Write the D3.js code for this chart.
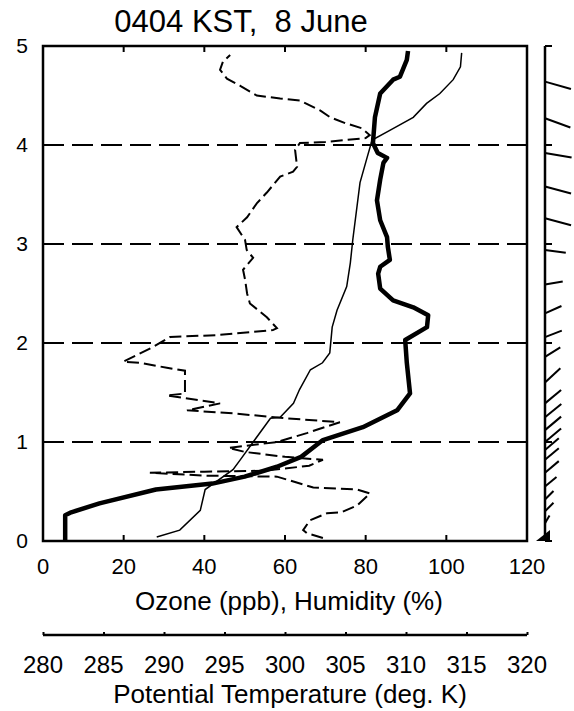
<!doctype html>
<html>
<head>
	<title>0404 KST, 8 June</title>
	<meta charset="UTF-8">
	<script src="https://d3js.org/d3.v7.min.js"></script>
	<style>
		body { margin: 0; background: #fff; }
		text { font-family: "Liberation Sans", Arial, sans-serif; fill: #000; }
	</style>
</head>
<body>
	<script>

		// ---- data (height in km) ----

		// ozone (ppb), thick line
		var ozoneVal = [5.5, 5.5, 7, 14, 28, 42, 50, 58, 64, 69.4, 79.3, 87.8, 91, 90.2, 89.8, 95.2, 95.5, 91.8, 86.8, 83.6,
			83.1, 83.6, 86, 85.5, 85.3, 83.6, 82.8, 83.6, 84.4, 85.3, 83, 81.8, 82.3, 83.6, 86.8, 88.5, 90.2, 90.5];
		var ozoneHgt = [0.0, 0.26, 0.29, 0.38, 0.52, 0.58, 0.65, 0.75, 0.85, 1.02, 1.15, 1.32, 1.49, 1.80, 2.03, 2.16, 2.28, 2.36, 2.43, 2.55,
			2.70, 2.77, 2.84, 2.97, 3.07, 3.24, 3.44, 3.65, 3.82, 3.87, 3.92, 4.02, 4.28, 4.52, 4.66, 4.69, 4.86, 4.95];

		// relative humidity (%), dashed line
		var humidVal = [69.4, 65.4, 64.5, 66.2, 70.4, 74, 77.9, 81.1, 77.9, 67, 60.5, 58, 40, 26.5, 40, 55, 66, 69.4, 60, 50,
			46, 50, 58, 65.4, 73.6, 60, 47, 35.7, 43.9, 30.7, 35.2, 35.2, 30.7, 24, 19.9, 23.3, 27.3, 31.5, 43.1, 57,
			58, 55.5, 51.3, 50.6, 50.1, 49.6, 52.1, 50.5, 50.1, 48, 50.6, 53, 55.5, 58.8, 62, 63, 62.5, 63.7, 70, 80,
			81, 79, 75, 71.2, 68.7, 63.7, 58.8, 53, 48.8, 45.6, 43.9, 44.6, 46.4];
		var humidHgt = [0.03, 0.08, 0.11, 0.21, 0.28, 0.29, 0.36, 0.48, 0.52, 0.54, 0.62, 0.65, 0.66, 0.69, 0.70, 0.71, 0.76, 0.82, 0.85, 0.90,
			0.94, 0.96, 1.00, 1.09, 1.20, 1.24, 1.29, 1.32, 1.39, 1.47, 1.49, 1.72, 1.75, 1.80, 1.81, 1.88, 1.96, 2.06, 2.08, 2.13,
			2.15, 2.26, 2.40, 2.50, 2.64, 2.74, 2.86, 2.94, 3.04, 3.17, 3.27, 3.41, 3.52, 3.68, 3.73, 3.78, 3.95, 4.02, 4.03, 4.07,
			4.10, 4.17, 4.22, 4.28, 4.35, 4.45, 4.47, 4.50, 4.60, 4.67, 4.76, 4.84, 4.91];

		// potential temperature (K), thin line
		var thetaVal = [289.4, 291.3, 293.0, 293.4, 295.7, 296.3, 298.5, 298.8, 299.6, 300.7, 301.2, 302.1, 303.1, 303.7, 303.9,
			304.3, 305.1, 305.4, 305.6, 306.2, 306.8, 307.2, 308.7, 310.6, 311.7, 312.8, 313.9, 314.5, 314.6];
		var thetaHgt = [0.04, 0.11, 0.31, 0.52, 0.72, 0.82, 1.19, 1.24, 1.25, 1.39, 1.53, 1.73, 1.80, 1.90, 2.16,
			2.33, 2.57, 2.81, 3.04, 3.62, 3.88, 4.05, 4.15, 4.28, 4.42, 4.52, 4.66, 4.79, 4.93];

		// wind sticks on the right strip: height, angle (deg, + = pointing down), relative speed
		var windHgt = [4.64, 4.27, 3.92, 3.58, 3.26, 2.94, 2.59, 2.30, 2.06, 1.86, 1.60, 1.39, 1.25, 1.12, 1.00, 0.92, 0.82, 0.69, 0.55, 0.42, 0.30, 0.18];
		var windDir = [16, 20, 10, 15, 15, 8, -10, -24, -21, -32, -43, -40, -39, -40, -40, -40, -40, -40, -40, -45, -45, -60];
		var windSpd = [9, 9, 9, 9, 9, 7, 6, 6, 6, 6, 7, 7, 7, 7, 7, 6, 6, 6, 5, 4, 4, 3];

		// ticks
		var xTicks = [0, 20, 40, 60, 80, 100, 120];
		var yTicks = [0, 1, 2, 3, 4, 5];
		var thetaTicks = [280, 285, 290, 295, 300, 305, 310, 315, 320];

		// ---- layout ----
		var W = 574, H = 711;
		var plotL = 43, plotR = 527, plotT = 46, plotB = 541;
		var stripX = 545;

		var svg = d3.select("body")
			.append("svg")
				.attr("width", W)
				.attr("height", H);

		// scales
		var x = d3.scaleLinear().domain([0, 120]).range([plotL, plotR]);
		var xT = d3.scaleLinear().domain([280, 320]).range([plotL, plotR]);
		var y = d3.scaleLinear().domain([0, 5]).range([plotB, plotT]);
		var len = d3.scaleLinear().domain([0, 9]).range([0, 27]);

		// title
		svg.append("text")
			.attr("x", 241)
			.attr("y", 32)
			.attr("text-anchor", "middle")
			.style("font-size", "31px")
			.style("white-space", "pre")
			.text("0404 KST,  8 June");

		// dashed grid lines at each km
		svg.append("g")
			.selectAll("line")
			.data(yTicks.filter(function(d) { return d > 0 && d < 5; }))
			.enter().append("line")
				.attr("x1", plotL)
				.attr("x2", plotR)
				.attr("y1", function(d) { return y(d); })
				.attr("y2", function(d) { return y(d); })
				.attr("stroke", "#000")
				.attr("stroke-width", 2)
				.attr("stroke-dasharray", "21,8");

		// lines
		var line = function(xs, vals, hgts) {
			return d3.line()
				.x(function(d, i) { return xs(vals[i]); })
				.y(function(d, i) { return y(hgts[i]); })(vals);
		};

		svg.append("path")
			.attr("d", line(xT, thetaVal, thetaHgt))
			.attr("fill", "none")
			.attr("stroke", "#000")
			.attr("stroke-width", 1.5);

		svg.append("path")
			.attr("d", line(x, humidVal, humidHgt))
			.attr("fill", "none")
			.attr("stroke", "#000")
			.attr("stroke-width", 2)
			.attr("stroke-dasharray", "12,5");

		svg.append("path")
			.attr("d", line(x, ozoneVal, ozoneHgt))
			.attr("fill", "none")
			.attr("stroke", "#000")
			.attr("stroke-width", 4.5)
			.attr("stroke-linejoin", "round");

		// frame
		svg.append("rect")
			.attr("x", plotL)
			.attr("y", plotT)
			.attr("width", plotR - plotL)
			.attr("height", plotB - plotT)
			.attr("fill", "none")
			.attr("stroke", "#000")
			.attr("stroke-width", 2.5);

		// inner ticks top and bottom
		var inner = xTicks.filter(function(d) { return d > 0 && d < 120; });
		svg.append("g")
			.selectAll("line")
			.data(inner)
			.enter().append("line")
				.attr("x1", function(d) { return x(d); })
				.attr("x2", function(d) { return x(d); })
				.attr("y1", plotT)
				.attr("y2", plotT + 6)
				.attr("stroke", "#000")
				.attr("stroke-width", 2);
		svg.append("g")
			.selectAll("line")
			.data(inner)
			.enter().append("line")
				.attr("x1", function(d) { return x(d); })
				.attr("x2", function(d) { return x(d); })
				.attr("y1", plotB)
				.attr("y2", plotB - 6)
				.attr("stroke", "#000")
				.attr("stroke-width", 2);

		// y labels
		svg.append("g")
			.selectAll("text")
			.data(yTicks)
			.enter().append("text")
				.attr("x", 28)
				.attr("y", function(d) { return y(d) + 7; })
				.attr("text-anchor", "end")
				.style("font-size", "21px")
				.text(function(d) { return d; });

		// x labels
		svg.append("g")
			.selectAll("text")
			.data(xTicks)
			.enter().append("text")
				.attr("x", function(d) { return x(d); })
				.attr("y", 574)
				.attr("text-anchor", "middle")
				.style("font-size", "22px")
				.text(function(d) { return d; });

		svg.append("text")
			.attr("x", 289)
			.attr("y", 610)
			.attr("text-anchor", "middle")
			.style("font-size", "26px")
			.text("Ozone (ppb), Humidity (%)");

		// potential temperature axis
		svg.append("g")
			.attr("transform", "translate(0,635)")
			.call(d3.axisTop(xT).tickValues(thetaTicks).tickSize(3).tickFormat(""))
			.call(function(g) {
				g.select(".domain").attr("stroke-width", 2.5).attr("d", "M" + plotL + ",0H" + plotR);
				g.selectAll(".tick line").attr("stroke-width", 2);
			});

		svg.append("g")
			.selectAll("text")
			.data(thetaTicks)
			.enter().append("text")
				.attr("x", function(d) { return xT(d); })
				.attr("y", 673)
				.attr("text-anchor", "middle")
				.style("font-size", "24px")
				.text(function(d) { return d; });

		svg.append("text")
			.attr("x", 290)
			.attr("y", 703)
			.attr("text-anchor", "middle")
			.style("font-size", "26px")
			.text("Potential Temperature (deg. K)");

		// wind strip
		svg.append("line")
			.attr("x1", stripX)
			.attr("x2", stripX)
			.attr("y1", y(5))
			.attr("y2", y(0))
			.attr("stroke", "#000")
			.attr("stroke-width", 2.5);

		svg.append("g")
			.selectAll("line")
			.data(yTicks)
			.enter().append("line")
				.attr("x1", stripX)
				.attr("x2", stripX + 7)
				.attr("y1", function(d) { return y(d); })
				.attr("y2", function(d) { return y(d); })
				.attr("stroke", "#000")
				.attr("stroke-width", 2);

		svg.append("g")
			.selectAll("line")
			.data(windHgt)
			.enter().append("line")
				.attr("x1", stripX)
				.attr("y1", function(d) { return y(d); })
				.attr("x2", function(d, i) { return stripX + len(windSpd[i]) * Math.cos(windDir[i] * Math.PI / 180); })
				.attr("y2", function(d, i) { return y(d) + len(windSpd[i]) * Math.sin(windDir[i] * Math.PI / 180); })
				.attr("stroke", "#000")
				.attr("stroke-width", 2);

		// blob at the surface
		svg.append("path")
			.attr("d", "M" + (stripX - 9) + "," + y(0) + "L" + (stripX + 5) + "," + (y(0) - 11) + "L" + (stripX + 5) + "," + y(0) + "Z")
			.attr("fill", "#000");

	</script>
</body>
</html>
